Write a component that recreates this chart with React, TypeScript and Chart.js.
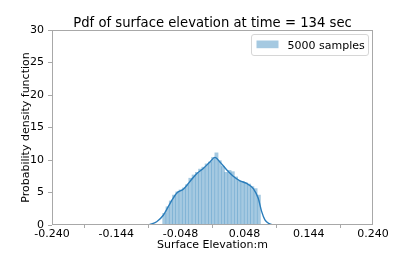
import React, { useEffect, useRef } from "react";
import { Chart, registerables } from "chart.js";

Chart.register(...registerables);

const TITLE = "Pdf of surface elevation at time = 134 sec";
const X_LABEL = "Surface Elevation:m";
const Y_LABEL = "Probability density function";
const LEGEND_LABEL = "5000 samples";

const BIN_CENTERS = [
  -0.0721, -0.0672, -0.0623, -0.0575, -0.0526, -0.0477, -0.0428, -0.038,
  -0.0331, -0.0282, -0.0233, -0.0185, -0.0136, -0.0087, -0.0038, 0.001,
  0.0059, 0.0108, 0.0157, 0.0205, 0.0254, 0.0303, 0.0352, 0.04, 0.0449,
  0.0498, 0.0547, 0.0595, 0.0644, 0.0693,
];
const BIN_HEIGHTS = [
  1.8, 2.8, 3.7, 4.6, 5.1, 5.4, 5.7, 6.2, 7.2, 7.7, 8.1, 8.6, 8.9, 9.4, 9.7,
  10.4, 11.1, 9.9, 9.0, 8.1, 8.4, 8.2, 7.4, 6.8, 6.7, 6.5, 6.3, 5.9, 5.6, 4.6,
];

const KDE_X = [
  -0.097, -0.0935, -0.0835, -0.0736, -0.0636, -0.0536, -0.0437, -0.0337,
  -0.0237, -0.0138, -0.0038, 0.0036, 0.0111, 0.0211, 0.031, 0.041, 0.051,
  0.061, 0.0684, 0.0734, 0.0784, 0.085, 0.091,
];
const KDE_Y = [
  0, 0.1, 0.5, 1.5, 3.3, 4.9, 5.5, 6.7, 7.9, 8.7, 9.7, 10.4, 9.7, 8.5, 7.5,
  6.8, 6.4, 5.6, 4.1, 2.1, 0.8, 0.2, 0,
];

const X_TICKS = [-0.24, -0.144, -0.048, 0.048, 0.144, 0.24];
const Y_TICKS = [0, 5, 10, 15, 20, 25, 30];

const FONT = "'DejaVu Sans', sans-serif";
const GRAY = "#a8a8a8";
const BAR_COLOR = "rgba(31,119,180,0.4)";
const LINE_COLOR = "#2a7dbb";

export default function App() {
  const ref = useRef<HTMLCanvasElement>(null);

  useEffect(() => {
    if (!ref.current) return;

    const spines = {
      id: "spines",
      afterDatasetsDraw(chart: any) {
        const { ctx, chartArea: a } = chart;
        ctx.save();
        ctx.strokeStyle = GRAY;
        ctx.lineWidth = 1;
        const l = Math.round(a.left) + 0.5;
        const t = Math.round(a.top) + 0.5;
        const r = Math.round(a.right) - 0.5;
        const b = Math.round(a.bottom) - 0.5;
        ctx.strokeRect(l, t, r - l, b - t);
        ctx.restore();
      },
    };

    const titleAndLegend = {
      id: "titleAndLegend",
      afterDraw(chart: any) {
        const { ctx, chartArea: a } = chart;
        ctx.save();
        // title
        ctx.fillStyle = "#000";
        ctx.font = `13.2px ${FONT}`;
        ctx.textAlign = "center";
        ctx.textBaseline = "alphabetic";
        ctx.fillText(TITLE, (a.left + a.right) / 2, a.top - 3);
        // legend box
        const bw = 117;
        const bh = 21;
        const bx = a.right - 5 - bw + 0.5;
        const by = a.top + 4.5;
        ctx.beginPath();
        (ctx as any).roundRect(bx, by, bw, bh, 2.5);
        ctx.fillStyle = "rgba(255,255,255,0.8)";
        ctx.fill();
        ctx.strokeStyle = "#d6d6d6";
        ctx.lineWidth = 1;
        ctx.stroke();
        ctx.fillStyle = BAR_COLOR;
        ctx.fillRect(bx + 5, by + 6, 22, 7.7);
        ctx.fillStyle = "#000";
        ctx.font = `11px ${FONT}`;
        ctx.textAlign = "left";
        ctx.fillText(chart.data.datasets[1].label, bx + 36, by + 14);
        ctx.restore();
      },
    };

    const chart = new Chart(ref.current, {
      type: "bar",
      data: {
        datasets: [
          {
            type: "line",
            label: "kde",
            data: KDE_X.map((x, i) => ({ x, y: KDE_Y[i] })),
            borderColor: LINE_COLOR,
            borderWidth: 1.4,
            pointRadius: 0,
            fill: false,
            cubicInterpolationMode: "monotone",
            order: 0,
          } as any,
          {
            type: "bar",
            label: LEGEND_LABEL,
            data: BIN_CENTERS.map((x, i) => ({ x, y: BIN_HEIGHTS[i] })),
            backgroundColor: BAR_COLOR,
            borderWidth: 0,
            barPercentage: 1,
            categoryPercentage: 1,
            order: 1,
          } as any,
        ],
      },
      options: {
        animation: false,
        responsive: false,
        layout: { padding: { top: 30, right: 42, left: 0, bottom: 0 } },
        plugins: {
          legend: { display: false },
          title: { display: false },
          tooltip: { enabled: false },
        },
        scales: {
          x: {
            type: "linear",
            min: -0.24,
            max: 0.24,
            offset: false,
            afterBuildTicks: (s: any) => {
              s.ticks = X_TICKS.map((v) => ({ value: v }));
            },
            afterFit: (s: any) => {
              s.height = 28;
            },
            ticks: {
              callback: (v: any) => Number(v).toFixed(3),
              font: { family: FONT, size: 11 },
              color: "#000",
              padding: 0,
              maxRotation: 0,
              autoSkip: false,
            },
            grid: {
              display: true,
              drawOnChartArea: false,
              drawTicks: true,
              tickLength: 3,
              color: GRAY,
            },
            border: { display: false },
            title: {
              display: true,
              text: X_LABEL,
              font: { family: FONT, size: 11 },
              color: "#000",
              padding: { top: 0, bottom: 1.5 },
            },
          },
          y: {
            type: "linear",
            min: 0,
            max: 30,
            afterBuildTicks: (s: any) => {
              s.ticks = Y_TICKS.map((v) => ({ value: v }));
            },
            afterFit: (s: any) => {
              s.width = 52;
            },
            ticks: {
              font: { family: FONT, size: 11 },
              color: "#000",
              padding: 4,
            },
            grid: {
              display: true,
              drawOnChartArea: false,
              drawTicks: true,
              tickLength: 4,
              color: GRAY,
            },
            border: { display: false },
            title: {
              display: true,
              text: Y_LABEL,
              font: { family: FONT, size: 11 },
              color: "#000",
              padding: { top: 19.5, bottom: 0 },
            },
          },
        },
      } as any,
      plugins: [spines, titleAndLegend],
    });

    return () => chart.destroy();
  }, []);

  return (
    <div style={{ position: "fixed", left: 0, top: 0, width: 415, height: 253, background: "#fff" }}>
      <canvas ref={ref} width={415} height={253} style={{ display: "block" }} />
    </div>
  );
}
